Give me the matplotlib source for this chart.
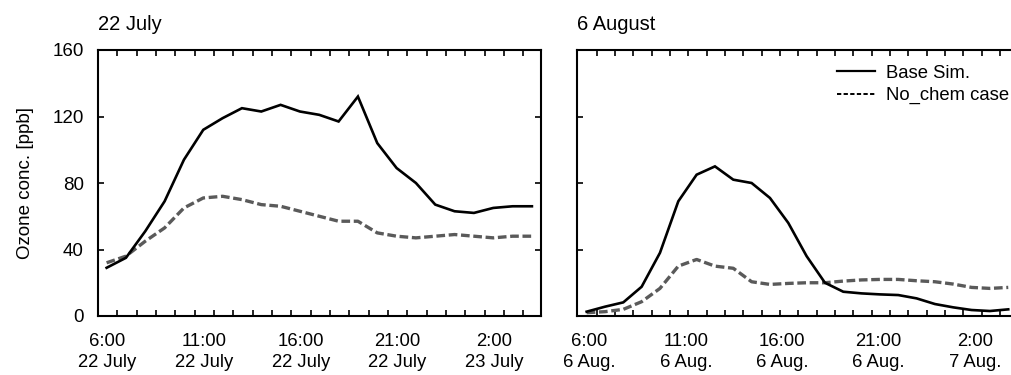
import numpy as np
import matplotlib
matplotlib.use("Agg")
import matplotlib.pyplot as plt
from matplotlib.lines import Line2D

plt.rcParams['font.family'] = ['Liberation Sans', 'DejaVu Sans']
plt.rcParams['font.size'] = 13

# ---------------- data ----------------
july_base = [29, 35, 51, 69, 94, 112, 119, 125, 123, 127, 123, 121, 117, 132,
             104, 89, 80, 67, 63, 62, 65, 66, 66]
july_nochem = [32, 36, 45, 53, 65, 71, 72, 70, 67, 66, 63, 60, 57, 57,
               50, 48, 47, 48, 49, 48, 47, 48, 48]
aug_base = [2.6, 5.6, 8.2, 17.6, 38, 69, 85, 90, 82, 80, 71, 56, 36, 20,
            14.6, 13.6, 13, 12.6, 10.6, 7.2, 5.2, 3.6, 3.0, 4.0]
aug_nochem = [2.0, 2.6, 4.0, 8.6, 16.6, 30, 34, 30, 28.7, 20.6, 19.0, 19.6, 20,
              20, 21, 21.7, 22, 22, 21.2, 20.6, 19.2, 17.2, 16.6, 17.2]

july_ticklabels = ["6:00\n22 July", "11:00\n22 July", "16:00\n22 July",
                   "21:00\n22 July", "2:00\n23 July"]
aug_ticklabels = ["6:00\n6 Aug.", "11:00\n6 Aug.", "16:00\n6 Aug.",
                  "21:00\n6 Aug.", "2:00\n7 Aug."]
label_hours = [0, 5, 10, 15, 20]
yticks = [0, 40, 80, 120, 160]
titles = ["22 July", "6 August"]
legend_labels = ["Base Sim.", "No_chem case"]

# ---------------- figure ----------------
W, H = 1012, 375
fig = plt.figure(figsize=(W / 100, H / 100), dpi=100)

ax_b = 1 - 316 / H
ax_h = (316 - 50) / H
axL = fig.add_axes([98.3 / W, ax_b, (541 - 98.3) / W, ax_h])
# right panel is cropped by the figure edge (no right spine visible)
axR = fig.add_axes([577.3 / W, ax_b, (1035 - 577.3) / W, ax_h])

solid_kw = dict(color='black', lw=1.9, solid_joinstyle='miter')
dash_kw = dict(color='#5a5a5a', lw=2.4, dashes=(2.6, 1.1))

right_xmax = -0.51 + (1035 - 577.3) / 18.33

for ax, base, noch, labels, title, xlim, lab_scale, lab_off in [
        (axL, july_base, july_nochem, july_ticklabels, titles[0], (-0.43, 22.47), 1.0, 0.05),
        (axR, aug_base, aug_nochem, aug_ticklabels, titles[1], (-0.51, right_xmax), 1.052, 0.15)]:
    hrs = np.arange(len(base))
    ax.plot(hrs, noch, **dash_kw)
    ax.plot(hrs, base, **solid_kw)
    ax.set_yticks(yticks)
    ax.set_xticks(np.array(label_hours) * lab_scale + lab_off)
    ax.set_xticklabels(labels, linespacing=1.3)
    ax.set_xticks(np.arange(0, len(base) + 2) + 0.55, minor=True)
    ax.set_xlim(*xlim)
    ax.set_ylim(0, 160)
    ax.tick_params(axis='x', which='major', length=0, pad=12, labelsize=13.3)
    ax.tick_params(axis='x', which='minor', direction='in', length=4, width=1.2,
                   top=True, bottom=True)
    ax.tick_params(axis='y', which='major', direction='in', length=4, width=1.2,
                   left=True, right=True, pad=10.5, labelsize=13.5)
    for s in ax.spines.values():
        s.set_linewidth(1.5)
    ax.text(0.0, 1.0 + 26 / 266, title, transform=ax.transAxes, ha='left',
            va='center', fontsize=14.5)

axR.tick_params(axis='y', labelleft=False)
axL.set_ylabel("Ozone conc. [ppb]", fontsize=13.5, labelpad=13)

handles = [Line2D([], [], color='black', lw=1.6),
           Line2D([], [], color='black', lw=1.4, dashes=(2.2, 1.2))]
axR.legend(handles, legend_labels, loc='upper left',
           bbox_to_anchor=((836.7 - 577.3) / (1035 - 577.3), 0.945),
           frameon=False, borderpad=0,
           borderaxespad=0, handlelength=2.1, handletextpad=0.55,
           labelspacing=0.3, fontsize=13.3)

fig.savefig("out.png", dpi=100)
